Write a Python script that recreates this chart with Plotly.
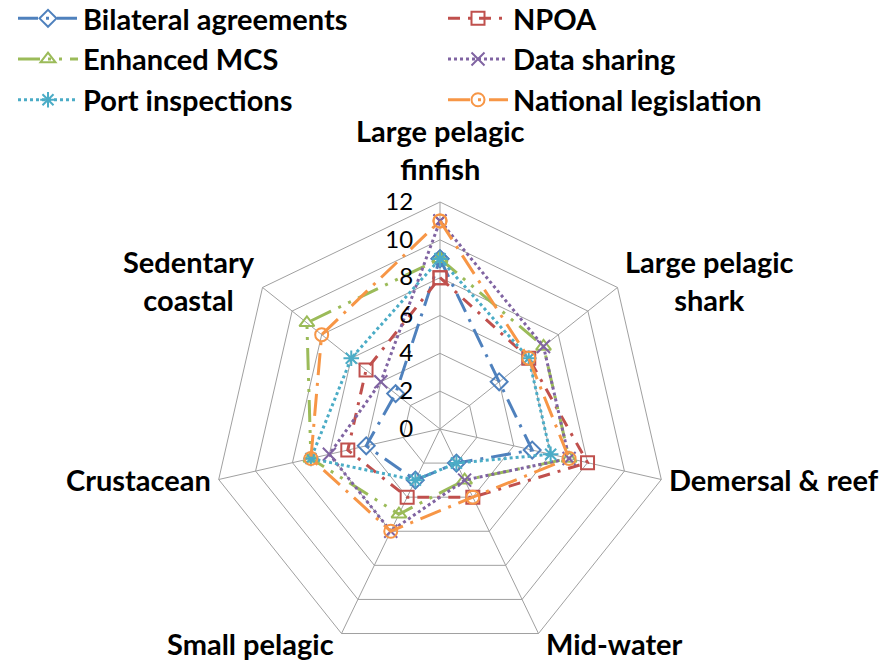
import math
import plotly.graph_objects as go

# Fishery categories, clockwise from the top
categories = ["Large pelagic<br>finfish", "Large pelagic<br>shark", "Demersal & reef",
              "Mid-water", "Small pelagic", "Crustacean", "Sedentary<br>coastal"]

# Scores per management measure
bilateral_agreements = [9, 4, 5, 2, 3, 4, 3]
npoa = [8, 6, 8, 4, 4, 5, 5]
enhanced_mcs = [9, 7, 7, 3, 5, 7, 9]
data_sharing = [11, 7, 7, 3, 6, 6, 4]
port_inspections = [9, 6, 6, 2, 3, 7, 6]
national_legislation = [11, 6, 7, 4, 6, 7, 8]

radial_ticks = [0, 2, 4, 6, 8, 10, 12]

series = [
    ("Bilateral agreements", bilateral_agreements, "#4F81BD", "20px,8px,3px,8px", "diamond-open"),
    ("NPOA", npoa, "#C0504D", "12px,8px,3px,8px", "square-open"),
    ("Enhanced MCS", enhanced_mcs, "#9BBB59", "22px,8px,3px,8px,3px,8px", "triangle-up-open"),
    ("Data sharing", data_sharing, "#8064A2", "3px,3px", "x-thin-open"),
    ("Port inspections", port_inspections, "#4BACC6", "3px,3px", "asterisk-open"),
    ("National legislation", national_legislation, "#F79646", "22px,8px,3px,8px", "circle-open"),
]

W, H = 895, 663
CX, CY, R = 440, 429, 227          # polar centre and outer radius in pixels
GRID = "#A0A0A0"
FONT = "Lato"
TXT = 29

fig = go.Figure()
for name, vals, color, dash, symbol in series:
    fig.add_trace(go.Scatterpolar(
        r=vals + vals[:1],
        theta=categories + categories[:1],
        name=name,
        mode="lines+markers",
        line=dict(color=color, width=3, dash=dash),
        marker=dict(symbol=symbol, size=13, color=color, line=dict(color=color, width=2)),
    ))

# Category labels placed just outside each outer vertex
annotations = []
n = len(categories)
for k, label in enumerate(categories):
    th = 2 * math.pi * k / n
    sx, cy = math.sin(th), math.cos(th)
    px = CX + R * sx
    py = CY - R * cy
    if sx > 0.1:
        xanchor, xs = "left", 6
    elif sx < -0.1:
        xanchor, xs = "right", -6
    else:
        xanchor, xs = "center", 0
    if cy > 0.9:
        yanchor, ys = "bottom", 14
    elif cy < -0.8:
        yanchor, ys = "middle", -10
    elif cy > 0.3:
        yanchor, ys = "middle", 7
    else:
        yanchor, ys = "middle", 0
    annotations.append(dict(
        text=label, x=px / W, y=1 - py / H, xref="paper", yref="paper",
        xanchor=xanchor, yanchor=yanchor, xshift=xs, yshift=ys,
        showarrow=False, align="center",
        font=dict(family=FONT, size=TXT, color="black", weight="bold"),
    ))

fig.update_layout(
    width=W, height=H,
    margin=dict(l=0, r=0, t=0, b=0, autoexpand=False),
    paper_bgcolor="white",
    plot_bgcolor="white",
    font=dict(family=FONT, color="black"),
    polar=dict(
        domain=dict(x=[(CX - R) / W, (CX + R) / W], y=[(H - CY - R) / H, (H - CY + R) / H]),
        bgcolor="white",
        gridshape="linear",
        radialaxis=dict(
            range=[0, 12], tickvals=radial_ticks, ticktext=[str(v) for v in radial_ticks],
            angle=90, side="counterclockwise", tickangle=90,
            showline=False, ticks="outside", ticklen=18, tickcolor="rgba(0,0,0,0)",
            gridcolor=GRID, gridwidth=1,
            tickfont=dict(family=FONT, size=24, color="black"),
        ),
        angularaxis=dict(
            rotation=90, direction="clockwise",
            showticklabels=False, ticks="",
            gridcolor=GRID, gridwidth=1,
            showline=True, linecolor=GRID, linewidth=1,
        ),
    ),
    legend=dict(
        orientation="h", x=13 / W, y=1 + 7 / H, xanchor="left", yanchor="top",
        font=dict(family=FONT, size=TXT, color="black", weight="bold"),
        itemwidth=60, entrywidth=355, tracegroupgap=0,
        bgcolor="rgba(0,0,0,0)",
    ),
    annotations=annotations,
)

fig.write_html("out.html")
